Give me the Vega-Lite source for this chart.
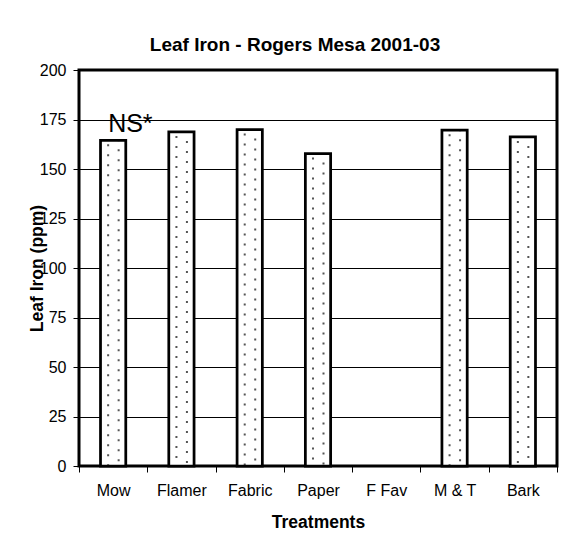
{
  "$schema": "https://vega.github.io/schema/vega-lite/v6.json",
  "autosize": {"type": "none"},
  "padding": {"left": 79, "top": 70, "right": 11, "bottom": 75},
  "width": 478,
  "height": 396,
  "background": "white",
  "title": {
    "text": "Leaf Iron - Rogers Mesa 2001-03",
    "font": "Liberation Sans",
    "fontSize": 19,
    "fontWeight": "bold",
    "color": "#000",
    "anchor": "middle",
    "frame": "group",
    "dx": -23,
    "dy": 17,
    "baseline": "alphabetic",
    "offset": 9
  },
  "data": {
    "values": [
      {"Treatment": "Mow", "value": 164.5, "note": "NS*"},
      {"Treatment": "Flamer", "value": 168.7},
      {"Treatment": "Fabric", "value": 169.9},
      {"Treatment": "Paper", "value": 157.8},
      {"Treatment": "F Fav", "value": null},
      {"Treatment": "M & T", "value": 169.6},
      {"Treatment": "Bark", "value": 166.2}
    ]
  },
  "encoding": {
    "x": {
      "field": "Treatment",
      "type": "nominal",
      "scale": {
        "domain": ["Mow", "Flamer", "Fabric", "Paper", "F Fav", "M & T", "Bark"],
        "paddingInner": 0,
        "paddingOuter": 0
      },
      "axis": {
        "title": "Treatments",
        "titleFont": "Liberation Sans",
        "titleFontSize": 17.5,
        "titleFontWeight": "bold",
        "titleColor": "#000",
        "titleBaseline": "alphabetic",
        "titleY": 61,
        "labelFont": "Liberation Sans",
        "labelFontSize": 16,
        "labelColor": "#000",
        "labelAngle": 0,
        "labelBaseline": "alphabetic",
        "labelPadding": 23,
        "tickBand": "extent",
        "tickSize": 6,
        "tickColor": "#000",
        "tickWidth": 1,
        "domain": false,
        "grid": false
      }
    },
    "y": {
      "field": "value",
      "type": "quantitative",
      "scale": {"domain": [0, 200], "nice": false},
      "axis": {
        "title": "Leaf Iron (ppm)",
        "titleFont": "Liberation Sans",
        "titleFontSize": 17.5,
        "titleFontWeight": "bold",
        "titleColor": "#000",
        "titleAngle": -90,
        "titleBaseline": "alphabetic",
        "titleX": -37,
        "titleY": 198,
        "values": [0, 25, 50, 75, 100, 125, 150, 175, 200],
        "labelFont": "Liberation Sans",
        "labelFontSize": 16,
        "labelColor": "#000",
        "labelPadding": 7,
        "tickSize": 6,
        "tickColor": "#000",
        "tickWidth": 1,
        "grid": true,
        "gridColor": "#000",
        "gridWidth": 1,
        "gridOpacity": 1,
        "domain": false
      }
    }
  },
  "layer": [
    {
      "mark": {"type": "bar", "fill": "white", "strokeWidth": 0, "width": {"band": 0.37}}
    },
    {
      "mark": {"type": "rule", "color": "#555", "strokeWidth": 2, "strokeDash": [2, 8], "strokeDashOffset": 6, "strokeCap": "butt", "xOffset": -5},
      "encoding": {"y2": {"datum": 0}}
    },
    {
      "mark": {"type": "rule", "color": "#555", "strokeWidth": 2, "strokeDash": [2, 8], "strokeDashOffset": 1, "strokeCap": "butt", "xOffset": 5.5},
      "encoding": {"y2": {"datum": 0}}
    },
    {
      "mark": {"type": "bar", "fill": "white", "fillOpacity": 0, "stroke": "#000", "strokeWidth": 2.75, "width": {"band": 0.37}}
    },
    {
      "transform": [{"filter": "isValid(datum.note)"}],
      "mark": {"type": "text", "font": "Liberation Sans", "fontSize": 25, "color": "#000", "align": "left", "baseline": "alphabetic", "dx": -5, "dy": -8.6},
      "encoding": {"text": {"field": "note"}}
    }
  ],
  "config": {
    "view": {"stroke": "#000", "strokeWidth": 3}
  }
}
